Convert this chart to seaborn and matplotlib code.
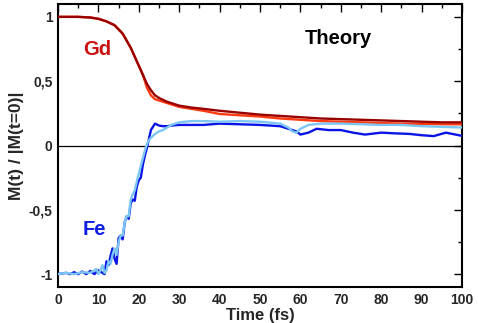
import numpy as np
import pandas as pd
import matplotlib
matplotlib.use("Agg")
import matplotlib.pyplot as plt
import seaborn as sns
from matplotlib.ticker import MultipleLocator, FixedLocator

# ---- data ----
gd_dark_t = [0, 5, 8, 10, 12, 14, 16, 18, 19, 20, 21, 22, 23, 24, 25, 27, 30, 33, 36, 40,
             45, 50, 55, 60, 65, 70, 75, 80, 85, 90, 95, 100]
gd_dark_m = [1, 1, 0.995, 0.985, 0.965, 0.935, 0.87, 0.76, 0.69, 0.62, 0.55, 0.48, 0.43, 0.39,
             0.37, 0.34, 0.31, 0.295, 0.285, 0.27, 0.255, 0.24, 0.23, 0.22, 0.21, 0.205, 0.2,
             0.195, 0.19, 0.185, 0.18, 0.18]

gd_red_t = [0, 5, 8, 10, 12, 14, 16, 18, 19, 20, 21, 22, 23, 24, 25, 27, 30, 33, 36, 40,
            45, 50, 55, 60, 65, 70, 75, 80, 85, 90, 95, 100]
gd_red_m = [1, 1, 0.995, 0.985, 0.965, 0.935, 0.87, 0.76, 0.69, 0.62, 0.55, 0.45, 0.39, 0.36,
            0.35, 0.33, 0.30, 0.285, 0.27, 0.245, 0.235, 0.225, 0.21, 0.2, 0.19, 0.185, 0.18,
            0.175, 0.17, 0.168, 0.165, 0.165]

fe_blue_t = [0, 1, 2, 3, 4, 5, 6, 7, 8, 9, 10, 11, 11.5, 12, 12.5, 13, 13.5, 14, 14.5, 15,
             15.5, 16, 16.5, 17, 17.5, 18, 18.5, 19, 19.5, 20, 20.5, 21, 21.5, 22, 22.5, 23,
             24, 25, 26, 27, 28, 30, 33, 36, 40, 45, 50, 55, 57, 59, 60, 62, 64, 67, 70, 73,
             76, 80, 83, 87, 90, 93, 96, 100]
fe_blue_m = [-1, -0.995, -0.99, -1.0, -0.985, -1.0, -0.98, -1.0, -0.975, -1.0, -0.97, -0.99,
             -1.0, -0.9, -0.93, -0.86, -0.8, -0.88, -0.92, -0.72, -0.70, -0.73, -0.6, -0.55,
             -0.57, -0.45, -0.42, -0.43, -0.32, -0.27, -0.25, -0.15, -0.08, -0.02, 0.05, 0.12,
             0.17, 0.155, 0.15, 0.15, 0.155, 0.16, 0.16, 0.16, 0.17, 0.165, 0.16, 0.15, 0.13,
             0.11, 0.085, 0.1, 0.13, 0.12, 0.12, 0.1, 0.085, 0.1, 0.095, 0.09, 0.08, 0.073, 0.1,
             0.075]

fe_light_t = [0, 2, 4, 6, 8, 9.5, 10, 10.5, 11, 11.5, 12, 12.5, 13, 13.5, 14, 14.5, 15, 15.5,
              16, 16.5, 17, 17.5, 18, 18.5, 19, 19.5, 20, 20.5, 21, 21.5, 22, 22.5, 23, 24, 25,
              26, 27, 28, 30, 33, 36, 40, 45, 50, 55, 57, 58, 59, 60, 62, 65, 70, 75, 80, 85,
              90, 95, 100]
fe_light_m = [-1, -0.99, -1.0, -0.985, -0.99, -0.96, -1.0, -0.97, -0.93, -0.99, -0.97, -0.9,
              -0.92, -0.85, -0.8, -0.85, -0.75, -0.7, -0.7, -0.6, -0.55, -0.55, -0.42, -0.38,
              -0.35, -0.28, -0.22, -0.16, -0.1, -0.04, 0.01, 0.04, 0.06, 0.09, 0.11, 0.12, 0.14,
              0.16, 0.18, 0.19, 0.19, 0.185, 0.19, 0.185, 0.17, 0.14, 0.11, 0.1, 0.13, 0.16,
              0.17, 0.17, 0.165, 0.16, 0.16, 0.15, 0.145, 0.14]

x_ticks = [0, 10, 20, 30, 40, 50, 60, 70, 80, 90, 100]
y_ticks = [-1, -0.5, 0, 0.5, 1]
y_tick_labels = ["-1", "-0,5", "0", "0,5", "1"]

# ---- plot ----
sns.set_style("white")
plt.rcParams['font.family'] = ['Liberation Sans', 'DejaVu Sans']
plt.rcParams['font.weight'] = 'bold'

fig = plt.figure(figsize=(4.78, 3.23), dpi=100)
ax = fig.add_axes([58 / 478, 1 - 287 / 323, (462 - 58) / 478, (287 - 4) / 323])

ax.axhline(0, color="black", lw=0.9, zorder=1)

series = [
    (gd_red_t, gd_red_m, "#ff3a10"),
    (gd_dark_t, gd_dark_m, "#990000"),
    (fe_blue_t, fe_blue_m, "#0a14e6"),
    (fe_light_t, fe_light_m, "#7cc6f4"),
]
for t, m, c in series:
    df = pd.DataFrame({"t": t, "m": m})
    sns.lineplot(data=df, x="t", y="m", ax=ax, color=c, lw=1.7, sort=False,
                 estimator=None, zorder=3)

ax.set_xlim(0, 100)
ax.set_ylim(-1.1, 1.1)
ax.xaxis.set_major_locator(FixedLocator(x_ticks))
ax.xaxis.set_minor_locator(MultipleLocator(5))
ax.yaxis.set_major_locator(FixedLocator(y_ticks))
ax.yaxis.set_minor_locator(MultipleLocator(0.25))
ax.set_yticklabels(y_tick_labels)
ax.set_xticklabels([str(v) for v in x_ticks])

ax.tick_params(which="both", direction="in", top=True, right=True, width=1.0,
               labelsize=10, color="black")
ax.tick_params(which="major", length=6, pad=4)
ax.tick_params(which="minor", length=3)
for lab in ax.get_xticklabels() + ax.get_yticklabels():
    lab.set_fontweight("bold")

for s in ax.spines.values():
    s.set_linewidth(1.5)
    s.set_color("black")

ax.set_xlabel("Time (fs)", fontsize=12, fontweight="bold", labelpad=1)
ax.set_ylabel("M(t) / |M(t=0)|", fontsize=12.5, fontweight="bold", labelpad=3)

ax.text(6.2, 0.75, "Gd", color="#cc1010", fontsize=14.5, fontweight="bold", va="center")
ax.text(61, 0.83, "Theory", color="black", fontsize=14.5, fontweight="bold", va="center")
ax.text(6.2, -0.65, "Fe", color="#1020e0", fontsize=14.5, fontweight="bold", va="center")

fig.savefig("out.png", dpi=100)
